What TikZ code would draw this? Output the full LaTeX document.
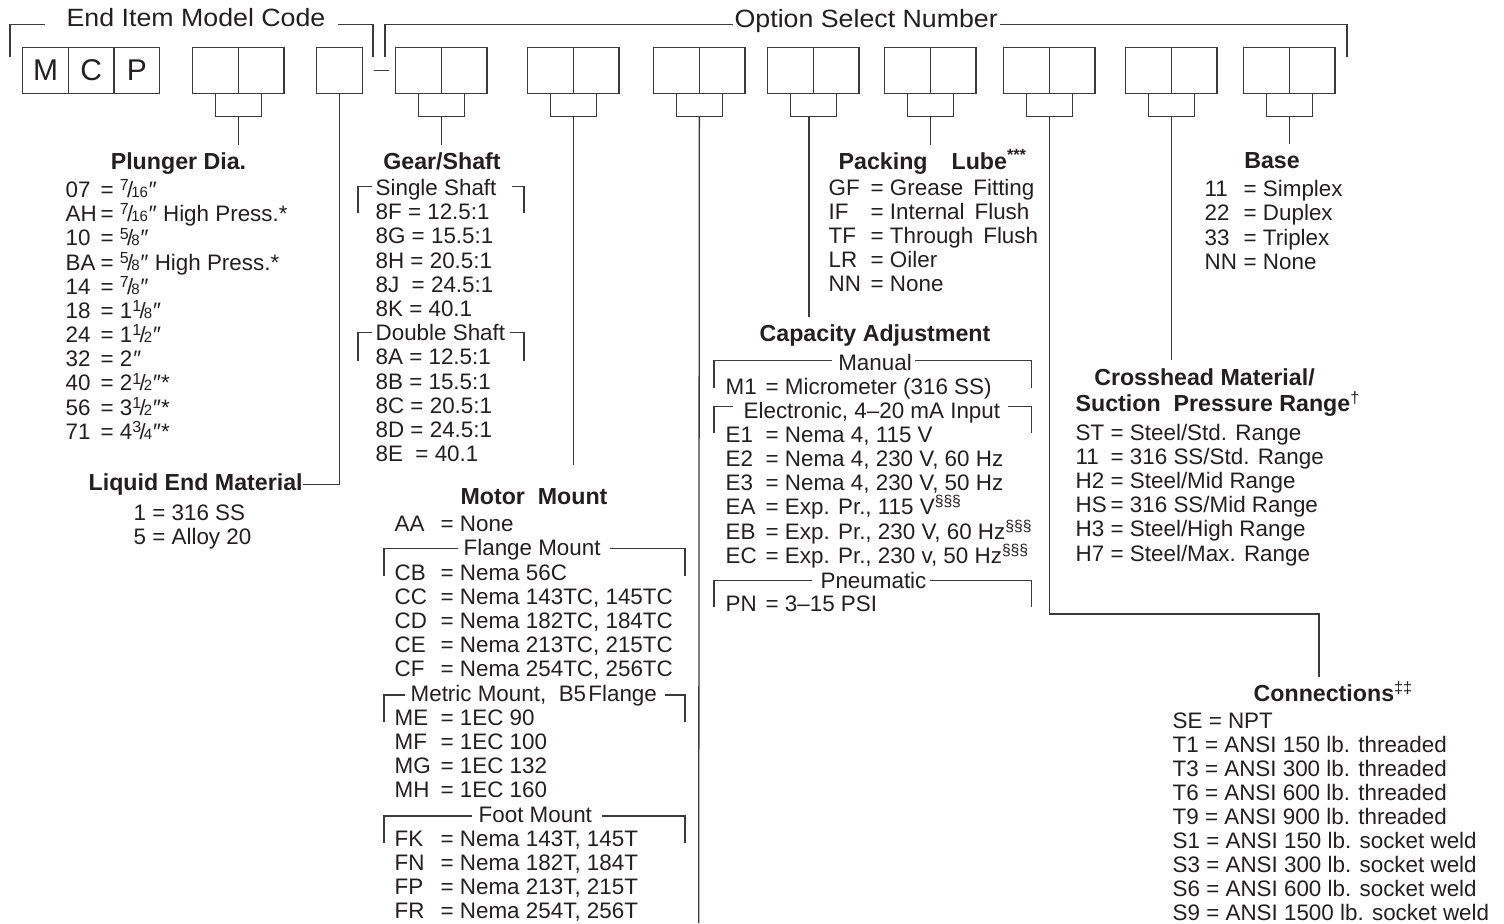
\documentclass[tikz,border=0pt]{standalone}
\usepackage{fontspec}
\setmainfont{Liberation Sans}
\newfontfamily\hdfont{Liberation Sans}[FakeStretch=1.07]
\usetikzlibrary{calc}

\definecolor{ink}{HTML}{231F20}
\definecolor{rule}{HTML}{3A3A3A}

\newcommand\frc[2]{\raisebox{.3em}{\fontsize{8}{8}\selectfont#1}\kern-.08em{\fontsize{11}{11}\selectfont/}\kern-.08em{\fontsize{7.5}{7.5}\selectfont#2}}
\newcommand\inch{\kern.04em″}
\newcommand\sss{\textsuperscript{§§§}}

\begin{document}
\begin{tikzpicture}[x=0.5pt, y=-0.5pt, line width=0.65pt, draw=rule, text=ink,
    cell/.style={draw, minimum width=22.85pt, minimum height=23pt, inner sep=0pt,
      anchor=north west, font=\fontsize{15}{15}\selectfont},
    hd/.style={font=\hdfont\fontsize{12.5}{13}\selectfont, inner sep=0pt, anchor=base west},
    ttl/.style={font=\bfseries\fontsize{11.6}{13}\selectfont, inner xsep=0pt, inner ysep=3.5pt,
      text height=8.5pt, text depth=2.5pt, anchor=base},
    row/.style={font=\fontsize{11.2}{12.1}\selectfont, inner sep=0pt, anchor=base west}]
  \useasboundingbox (0,0) rectangle (1504,923);
  % header brackets
  \node[hd] (eimc) at (66,26.7) {End Item Model Code};
  \node[hd] (osn) at (734,27.3) {Option Select Number};
  \draw (10,57) |- (45,24.3);
  \draw (338,24.3) -| (373,57);
  \draw (385,57) |- (733,24.3);
  \draw (1000,24.3) -| (1347,57);
  %
  % code boxes
  \foreach \x/\n [count=\i] in {22/M, 67.7/C, 113.4/P}
    \node[cell] (mcp\i) at (\x,47) {\n};
  \node[cell] (lq) at (316,47) {};
  \foreach \nm/\x in {pd/192, gs/395, mm/527, ob/653, ca/767, pl/884, cn/1003, ch/1125, bs/1243} {
    \node[cell] (\nm-a) at (\x,47) {};
    \node[cell] (\nm-b) at (\x+45.7,47) {};
    \draw (\nm-a.south) -- ++(0,22) -| (\nm-b.south);
    \coordinate (\nm-k) at ($(\nm-a.south)!.5!(\nm-b.south)+(0,22)$);
  }
  \draw ([xshift=5.5pt]lq.east) -- ([xshift=-3pt]gs-a.west);
  %
  % Plunger Dia.
  \node[ttl] (pdt) at (178.5,169.3) {Plunger Dia.};
  \foreach \c/\v [count=\i from 0] in {07/{\frc{7}{16}\inch}, AH/{\frc{7}{16}\inch{} High Press.*},
      10/{\frc{5}{8}\inch}, BA/{\frc{5}{8}\inch{} High Press.*}, 14/{\frc{7}{8}\inch},
      18/{1\frc{1}{8}\inch}, 24/{1\frc{1}{2}\inch}, 32/{2\inch}, 40/{2\frc{1}{2}\inch*},
      56/{3\frc{1}{2}\inch*}, 71/{4\frc{3}{4}\inch*}}
    \node[row] (pd\i) at (65,197.5+24.17*\i) {\makebox[17.5pt][l]{\c}= \v};
  \draw (pd-k) -- (pd-k |- pdt.north);
  %
  % Liquid End Material
  \node[ttl, anchor=base west] (lqt) at (88,490.7) {Liquid End Material};
  \node[row] (lq1) at (133,520) {1 = 316 SS};
  \node[row] (lq5) at (133,544.5) {5 = Alloy 20};
  \draw (lq.south) |- (lqt.east);
  %
  % Gear/Shaft
  \node[ttl] (gst) at (442,169.3) {Gear/Shaft};
  \foreach \t [count=\i from 0] in {Single Shaft, 8F = 12.5:1, 8G = 15.5:1, 8H = 20.5:1,
      8J\ \ = 24.5:1, 8K = 40.1, Double Shaft, 8A = 12.5:1, 8B = 15.5:1, 8C = 20.5:1,
      8D = 24.5:1, 8E\ \ = 40.1}
    \node[row] (gs\i) at (375,195.5+24.2*\i) {\t};
  \draw (372,186.7) -| (358,212.7);
  \draw (512,186.7) -| (524,212.7);
  \draw (372,332.7) -| (358,360.7);
  \draw (510,332.7) -| (524,360.7);
  \draw (gs-k) -- (gs-k |- gst.north);
  %
  % Motor Mount
  \node[ttl] (mmt) at (534,504) {Motor\ \ Mount};
  \node[row] (mmf) at (463,555.9) {Flange Mount};
  \node[row] (mmm) at (410,701.1) {Metric Mount,\ \ B5\kern.1em Flange};
  \node[row] (mmo) at (478,822.1) {Foot Mount};
  \foreach \i/\c/\v in {0/AA/None, 2/CB/{Nema 56C}, 3/CC/{Nema 143TC, 145TC},
      4/CD/{Nema 182TC, 184TC}, 5/CE/{Nema 213TC, 215TC}, 6/CF/{Nema 254TC, 256TC},
      8/ME/{1EC 90}, 9/MF/{1EC 100}, 10/MG/{1EC 132}, 11/MH/{1EC 160},
      13/FK/{Nema 143T, 145T}, 14/FN/{Nema 182T, 184T}, 15/FP/{Nema 213T, 215T},
      16/FR/{Nema 254T, 256T}}
    \node[row] (mm\i) at (394,531.7+24.2*\i) {\makebox[23pt][l]{\c}= \v};
  \draw (458,548.3) -| (384,576);
  \draw (610,548.3) -| (685,576);
  \draw (405,695) -| (384,721.7);
  \draw (665,695) -| (685,721.7);
  \draw (472,816) -| (384,842.7);
  \draw (602,816) -| (685,842.7);
  \draw (mm-k) -- ([yshift=7pt]mm-k |- mmt.north);
  %
  % leader running off the sheet
  \coordinate (ob-end) at (698.7,923);
  \draw (ob-k) -- (ob-end);
  %
  % Capacity Adjustment
  \node[ttl] (cat) at (875,341.7) {Capacity Adjustment};
  \node[row, anchor=base] (cam) at (875,370) {Manual};
  \node[row] (cae) at (743,418.3) {Electronic, 4–20 mA Input};
  \node[row, anchor=base] (cap) at (873.5,588.3) {Pneumatic};
  \node[row] (ca0) at (725,394) {\makebox[20pt][l]{M1}= Micrometer (316 SS)};
  \foreach \c/\v [count=\i from 0] in {E1/{Nema 4, 115 V}, E2/{Nema 4, 230 V, 60 Hz},
      E3/{Nema 4, 230 V, 50 Hz}, EA/{Exp. Pr., 115 V\sss}, EB/{Exp. Pr., 230 V, 60 Hz\sss},
      EC/{Exp. Pr., 230 v, 50 Hz\sss}}
    \node[row] (cae\i) at (725,442.3+24.2*\i) {\makebox[20pt][l]{\c}= \v};
  \node[row] (capn) at (725,611.7) {\makebox[20pt][l]{PN}= 3–15 PSI};
  \draw (831.7,360.7) -| (714,388.3);
  \draw (915,360.7) -| (1031.7,388.3);
  \draw (733.3,406.7) -| (714,433.3);
  \draw (1008.3,406.7) -| (1031.7,433.3);
  \draw (812,580.7) -| (714,606.7);
  \draw (930,580.7) -| (1031.7,606.7);
  \coordinate (ca-s) at ($(ca-k)+(-4.5,0)$);
  \draw (ca-s) -- (ca-s |- cat.north);
  %
  % Packing Lube
  \node[ttl, anchor=base west] (plt) at (838,169.3) {Packing\hspace{12pt}Lube\textsuperscript{***}};
  \foreach \c/\v [count=\i from 0] in {GF/{Grease\ \,Fitting}, IF/{Internal\ \,Flush},
      TF/{Through\ \,Flush}, LR/Oiler, NN/None}
    \node[row] (pl\i) at (828,195+24.2*\i) {\makebox[21pt][l]{\c}= \v};
  \draw (pl-k) -- (pl-k |- plt.north);
  %
  % Base
  \node[ttl] (bst) at (1272,168.3) {Base};
  \foreach \c/\v [count=\i from 0] in {11/Simplex, 22/Duplex, 33/Triplex, NN/None}
    \node[row] (bs\i) at (1204,196.7+24.2*\i) {\makebox[19.5pt][l]{\c}= \v};
  \draw (bs-k) -- (bs-k |- bst.north);
  %
  % Crosshead Material
  \node[ttl] (cht) at (1204.5,385) {Crosshead Material/};
  \node[ttl, anchor=base west] (cht2) at (1075,411.7) {Suction\ \ Pressure Range\textsuperscript{\mdseries †}};
  \foreach \c/\v [count=\i from 0] in {ST/{Steel/Std. Range}, 11/{316 SS/Std. Range},
      H2/{Steel/Mid Range}, HS/{316 SS/Mid Range}, H3/{Steel/High Range}, H7/{Steel/Max. Range}}
    \node[row] (ch\i) at (1075,440+24.2*\i) {\makebox[17.5pt][l]{\c}= \v};
  \draw (ch-k) -- (ch-k |- cht.north);
  %
  % Connections
  \node[ttl, anchor=base west] (cnt) at (1253,701.7) {Connections\textsuperscript{\mdseries ‡‡}};
  \foreach \c/\v [count=\i from 0] in {SE/NPT, T1/{ANSI 150 lb. threaded}, T3/{ANSI 300 lb. threaded},
      T6/{ANSI 600 lb. threaded}, T9/{ANSI 900 lb. threaded}, S1/{ANSI 150 lb. socket weld},
      S3/{ANSI 300 lb. socket weld}, S6/{ANSI 600 lb. socket weld}, S9/{ANSI 1500 lb. socket weld}}
    \node[row] (cn\i) at (1172,728.3+24.0*\i) {\c{} = \v};
  \coordinate (cn-turn) at (1319,614);
  \draw (cn-k) |- (cn-turn) -- (cn-turn |- cnt.north);
\end{tikzpicture}
\end{document}
